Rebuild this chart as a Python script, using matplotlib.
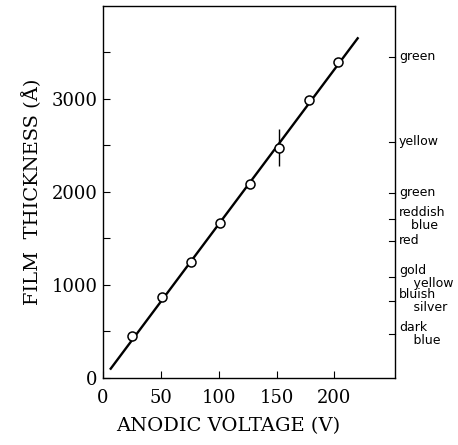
import matplotlib
matplotlib.use("Agg")
import matplotlib.pyplot as plt
import matplotlib.transforms as mtransforms

# measured points (anodic voltage V, film thickness A)
voltage = [25, 51, 76, 101, 127, 152, 178, 203]
thickness = [455, 865, 1245, 1665, 2080, 2476, 2985, 3400]
err_idx = 5
err_size = 200

# fitted line end points
line_v = [7, 220]
line_t = [100, 3650]

# interference colours on the right axis
color_pos = [3452, 2538, 1989, 1710, 1473, 1086, 828, 473]
color_names = ["green", "yellow", "green", "reddish\n   blue", "red",
               "gold\n   \u2009yellow", "bluish\n   \u2009silver", "dark\n   \u2009blue"]

fig = plt.figure(figsize=(4.58, 4.45), dpi=100)
ax = fig.add_axes([0.224, 0.1506, 0.638, 0.8366])

ax.plot(line_v, line_t, color="black", lw=1.7, zorder=2)
ax.plot(voltage, thickness, "o", mfc="white", mec="black", ms=6.5, mew=1.1, zorder=3)
ax.errorbar([voltage[err_idx]], [thickness[err_idx]], yerr=err_size,
            fmt="none", ecolor="black", elinewidth=1.0, capsize=0, zorder=1)

ax.set_xlim(0, 252)
ax.set_ylim(0, 4000)
ax.set_xticks([0, 50, 100, 150, 200])
ax.set_yticks([0, 1000, 2000, 3000])
ax.set_yticks([500, 1500, 2500, 3500], minor=True)
ax.tick_params(which="both", direction="in", length=5, width=0.8,
               labelsize=13, right=False, top=False)
ax.tick_params(axis="x", pad=8)
for lab in ax.get_xticklabels() + ax.get_yticklabels():
    lab.set_family("DejaVu Serif")

for sp in ax.spines.values():
    sp.set_linewidth(1.0)

# colour ticks on right spine
trans = mtransforms.blended_transform_factory(ax.transAxes, ax.transData)
for y, name in zip(color_pos, color_names):
    ax.plot([0.98, 1.0], [y, y], color="black", lw=0.8, transform=trans, clip_on=False)
    ax.annotate(name, xy=(1.0, y), xycoords=trans, xytext=(3, 0),
                textcoords="offset points", ha="left", va="center",
                fontsize=9, family="DejaVu Sans", linespacing=0.95)

ax.set_xlabel("ANODIC VOLTAGE (V)", family="DejaVu Serif", fontsize=14, labelpad=6)
ax.xaxis.set_label_coords(0.43, -0.105)
ax.set_ylabel("FILM  THICKNESS (Å)", family="DejaVu Serif", fontsize=14, labelpad=7)

fig.savefig("out.png", dpi=100)
